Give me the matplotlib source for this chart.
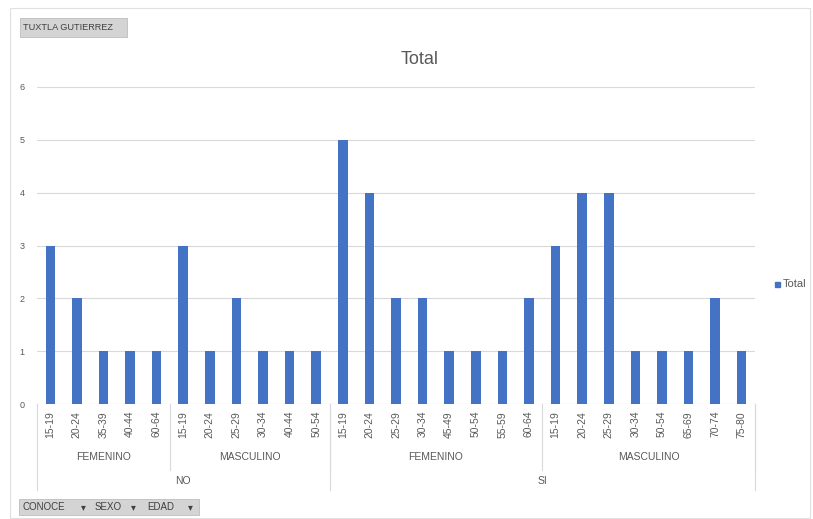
import numpy as np
import matplotlib.pyplot as plt
from matplotlib.patches import Rectangle
from matplotlib.transforms import blended_transform_factory

plt.rcParams['font.family'] = ['Liberation Sans', 'DejaVu Sans']

# pivot chart data
edad = ["15-19", "20-24", "35-39", "40-44", "60-64",
        "15-19", "20-24", "25-29", "30-34", "40-44", "50-54",
        "15-19", "20-24", "25-29", "30-34", "45-49", "50-54", "55-59", "60-64",
        "15-19", "20-24", "25-29", "30-34", "50-54", "65-69", "70-74", "75-80"]
sexo = ["FEMENINO"] * 5 + ["MASCULINO"] * 6 + ["FEMENINO"] * 8 + ["MASCULINO"] * 8
conoce = ["NO"] * 11 + ["SI"] * 16
total = [3, 2, 1, 1, 1,
         3, 1, 2, 1, 1, 1,
         5, 4, 2, 2, 1, 1, 1, 2,
         3, 4, 4, 1, 1, 1, 2, 1]

W, H = 813, 519
txt = "#595959"
grid = "#d9d9d9"


def runs(keys):
    out = []
    start = 0
    for i in range(1, len(keys) + 1):
        if i == len(keys) or keys[i] != keys[start]:
            out.append((start, i - 1, keys[start]))
            start = i
    return out


fig = plt.figure(figsize=(W / 100, H / 100), dpi=100)
ax = fig.add_axes([37 / W, 1 - 404 / H, (755 - 37) / W, (404 - 87) / H])

x = np.arange(len(total))
ax.bar(x, total, width=0.36, color="#4472C4", zorder=3)
ax.set_xlim(-0.5, len(total) - 0.5)
ax.set_ylim(0, 6)
ax.set_yticks(range(7))
ax.tick_params(axis="y", length=0, labelsize=6.5, labelcolor=txt, pad=9)
ax.yaxis.grid(True, color=grid, lw=0.8, zorder=0)
ax.set_xticks(x)
ax.set_xticklabels(edad, rotation=90, fontsize=7.5, color=txt)
ax.tick_params(axis="x", length=0, pad=5)
for s in ax.spines.values():
    s.set_visible(False)
ax.axhline(0, color=grid, lw=0.8, zorder=1)

tr = blended_transform_factory(ax.transData, ax.transAxes)
y_sex = -(457 - 404) / (404 - 87)
y_con = -(481 - 404) / (404 - 87)
y_sep1 = -(470 - 404) / (404 - 87)
y_sep2 = -(490 - 404) / (404 - 87)

# separators and group labels
ax.plot([-0.5, -0.5], [0, y_sep2], transform=tr, color=grid, lw=0.8, clip_on=False)
for a, b, name in runs([c + s for c, s in zip(conoce, sexo)]):
    ax.text((a + b) / 2, y_sex, sexo[a], transform=tr, ha="center", va="center",
            fontsize=7.5, color=txt)
    ax.plot([b + 0.5, b + 0.5], [0, y_sep1], transform=tr, color=grid, lw=0.8, clip_on=False)
for a, b, name in runs(conoce):
    ax.text((a + b) / 2, y_con, name, transform=tr, ha="center", va="center",
            fontsize=7.5, color=txt)
    ax.plot([b + 0.5, b + 0.5], [0, y_sep2], transform=tr, color=grid, lw=0.8, clip_on=False)

fig.text(420 / W, 1 - 60 / H, "Total", ha="center", va="center", fontsize=13, color=txt)

# legend
fig.patches.append(Rectangle((775 / W, 1 - 287 / H), 5 / W, 5 / H, transform=fig.transFigure,
                             color="#4472C4"))
fig.text(783 / W, 1 - 284 / H, "Total", ha="left", va="center", fontsize=8, color=txt)

# outer chart frame
fig.patches.append(Rectangle((10 / W, 1 - 518 / H), 800 / W, 510 / H, transform=fig.transFigure,
                             fill=False, ec="#e0e0e0", lw=0.8))

# pivot field buttons
fig.patches.append(Rectangle((20 / W, 1 - 37 / H), 107 / W, 19 / H, transform=fig.transFigure,
                             fc="#d4d4d4", ec="#bdbdbd", lw=0.6))
fig.text(23 / W, 1 - 28 / H, "TUXTLA GUTIERREZ", ha="left", va="center", fontsize=6.6, color="#404040")
fig.patches.append(Rectangle((19 / W, 1 - 515 / H), 180 / W, 16 / H, transform=fig.transFigure,
                             fc="#d4d4d4", ec="#bdbdbd", lw=0.6))
for xp, lab in [(22, "CONOCE"), (95, "SEXO"), (147, "EDAD")]:
    fig.text(xp / W, 1 - 507 / H, lab, ha="left", va="center", fontsize=7, color="#404040")
for xp in [83, 133, 190]:
    fig.text(xp / W, 1 - 507 / H, "\u25be", ha="center", va="center", fontsize=7, color="#404040")

fig.savefig("out.png", dpi=100, facecolor="white")
